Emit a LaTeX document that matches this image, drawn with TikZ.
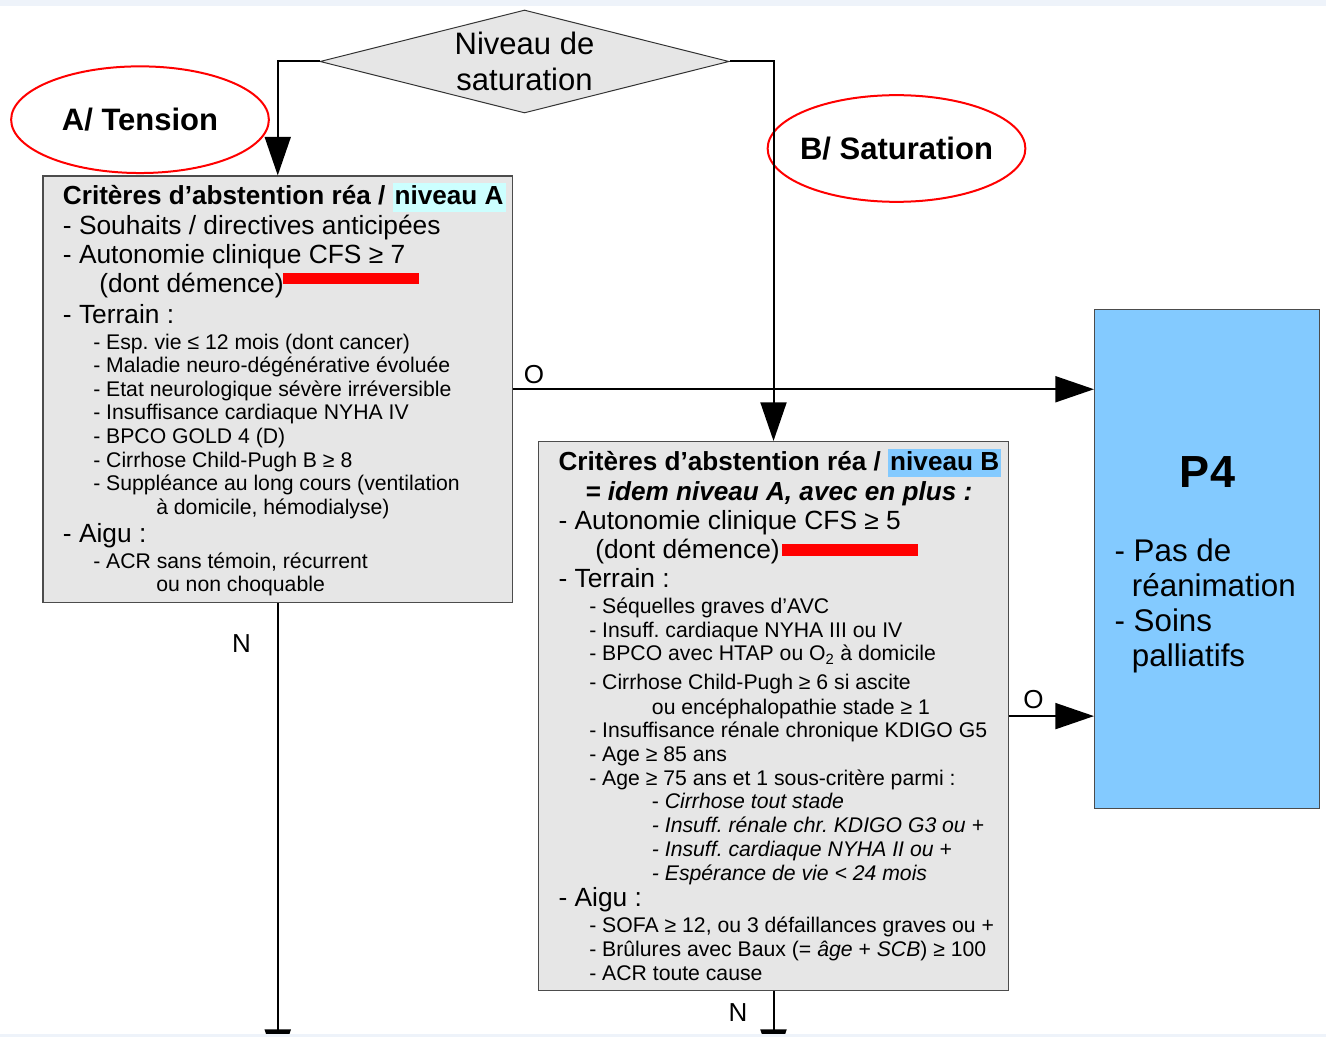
\documentclass[tikz,border=0pt]{standalone}
\usepackage{fontspec}
\setmainfont{Liberation Sans}
\usetikzlibrary{shapes.geometric,arrows.meta}

\definecolor{boxgray}{HTML}{E6E6E6}
\definecolor{pfblue}{HTML}{83CAFF}
\definecolor{hlcyan}{HTML}{CCFFFF}
\definecolor{bandblue}{HTML}{EEF3FA}
\newcommand{\hlmark}[2]{{\setlength{\fboxsep}{1.5pt}\colorbox{#1}{\rule[-3.5pt]{0pt}{18.5pt}#2}}}
\frenchspacing

\begin{document}
\begin{tikzpicture}[x=0.75pt,y=-0.75pt,
  crit/.style={draw=black!70,line width=0.8pt,fill=boxgray,inner sep=0pt},
  oval/.style={ellipse,draw=red,line width=1.5pt,inner xsep=-6pt,minimum width=193.3pt,minimum height=80pt,
    font=\bfseries\fontsize{23.25}{26}\selectfont},
  conn/.style={line width=1.5pt,-{Triangle[length=29pt,width=19.5pt]}},
  big/.style={anchor=base west,inner sep=0pt,font=\fontsize{19.75}{22}\selectfont},
  sm/.style={anchor=base west,inner sep=0pt,font=\fontsize{15.9}{18}\selectfont},
  lbl/.style={anchor=base,inner sep=0pt,font=\fontsize{19.5}{22}\selectfont}]
\useasboundingbox (0,0) rectangle (1326,1037);
\clip (0,0) rectangle (1326,1037);
% decision and the two branches
\node[diamond,draw=black!80,line width=0.75pt,fill=boxgray,aspect=4,inner sep=0pt,
  minimum width=306.75pt,minimum height=77.25pt,align=center,
  font=\fontsize{23.25}{26.8}\selectfont] (niv) at (524.5,61.5) {Niveau de\\saturation};
\node[oval] (tension) at (140,119.7) {A/ Tension};
\node[oval] (satur) at (896.5,148.5) {B/ Saturation};
% boxes
\node[crit,minimum width=352.1pt,minimum height=319.9pt] (critA) at (277.75,389.25) {};
\node[crit,minimum width=352.5pt,minimum height=411.9pt] (critB) at (773.5,716.1) {};
\node[crit,fill=pfblue,minimum width=168.75pt,minimum height=374.25pt] (pfour) at (1207,558.8) {};
% connectors
\draw[conn] (niv.west) -| (critA.north);
\draw[conn] (niv.east) -| (critB.north);
\draw[conn] (critA.east) -- (critA.east -| pfour.west);
\draw[conn] (critB.east) -- (critB.east -| pfour.west);
\coordinate (endA) at (277.75,1068);
\coordinate (endB) at (773.5,1068);
\draw[conn] (critA.south) -- (endA);
\draw[conn] (critB.south) -- (endB);
\node[lbl] (oA) at (534,383.5) {O};
\node[lbl] (oB) at (1033.5,708) {O};
\node[lbl] (nA) at (241.5,652) {N};
\node[lbl] (nB) at (738,1021.7) {N};
% niveau A
\node[big,font=\bfseries\fontsize{19.6}{22}\selectfont] (tA) at (62.7,205)
  {Critères d’abstention réa / \hlmark{hlcyan}{niveau A}};
\node[big] (a1) at (62.7,235) {- Souhaits / directives anticipées};
\node[big] (a2) at (62.7,264) {- Autonomie clinique CFS ≥ 7};
\node[big] (a3) at (99,293) {(dont démence)};
\fill[red] (283.3,272.7) rectangle (419.3,284.3);
\node[big] (a4) at (62.7,323) {- Terrain :};
\foreach \t [count=\i from 0] in {{- Esp. vie ≤ 12 mois (dont cancer)},
  {- Maladie neuro-dégénérative évoluée},{- Etat neurologique sévère irréversible},
  {- Insuffisance cardiaque NYHA IV},{- BPCO GOLD 4 (D)},{- Cirrhose Child-Pugh B ≥ 8},
  {- Suppléance au long cours (ventilation}}
  \node[sm] (sa\i) at (93,{349+23.6*\i}) {\t};
\node[sm] (sa7) at (156,514.2) {à domicile, hémodialyse)};
\node[big] (a5) at (62.7,542) {- Aigu :};
\node[sm] (sa8) at (93,568) {- ACR sans témoin, récurrent};
\node[sm] (sa9) at (156,591.7) {ou non choquable};
% niveau B
\node[big,font=\bfseries\fontsize{19.6}{22}\selectfont] (tB) at (558.3,470.7)
  {Critères d’abstention réa / \hlmark{pfblue}{niveau B}};
\node[big,font=\bfseries\itshape\fontsize{19.6}{22}\selectfont] (b0) at (585,500)
  {= idem niveau A, avec en plus :};
\node[big] (b1) at (558.3,529.3) {- Autonomie clinique CFS ≥ 5};
\node[big] (b2) at (595,558.3) {(dont démence)};
\fill[red] (782.3,544.3) rectangle (918.3,556);
\node[big] (b3) at (558.3,587.7) {- Terrain :};
\node[sm] (sb1) at (589,613.3) {- Séquelles graves d’AVC};
\node[sm] (sb2) at (589,637.3) {- Insuff. cardiaque NYHA III ou IV};
\node[sm] (sb3) at (589,660.7) {- BPCO avec HTAP ou O\textsubscript{2} à domicile};
\node[sm] (sb4) at (589,689.3) {- Cirrhose Child-Pugh ≥ 6 si ascite};
\node[sm] (sb5) at (651.7,714) {ou encéphalopathie stade ≥ 1};
\node[sm] (sb6) at (589,737.3) {- Insuffisance rénale chronique KDIGO G5};
\node[sm] (sb7) at (589,761) {- Age ≥ 85 ans};
\node[sm] (sb8) at (589,785) {- Age ≥ 75 ans et 1 sous-critère parmi :};
\node[sm] (ib1) at (651.7,808.3) {- \textit{Cirrhose tout stade}};
\node[sm] (ib2) at (651.7,832.3) {\textit{- Insuff. rénale chr. KDIGO G3 ou +}};
\node[sm] (ib3) at (651.7,856) {\textit{- Insuff. cardiaque NYHA II ou +}};
\node[sm] (ib4) at (651.7,880) {\textit{- Espérance de vie < 24 mois}};
\node[big] (b4) at (558.3,906.7) {- Aigu :};
\node[sm] (sb9) at (589,932.7) {- SOFA ≥ 12, ou 3 défaillances graves ou +};
\node[sm] (sb10) at (589,956.7) {- Brûlures avec Baux (= \textit{âge} + \textit{SCB}) ≥ 100};
\node[sm] (sb11) at (589,980) {- ACR toute cause};
% P4
\node[anchor=base,inner sep=0pt,font=\bfseries\fontsize{33.75}{38}\selectfont] (p4) at (1207.5,487.3) {P4};
\node[big,font=\fontsize{23.5}{26}\selectfont] (p1) at (1114.3,561) {- Pas de};
\node[big,font=\fontsize{23.5}{26}\selectfont] (p2) at (1131.7,596.7) {réanimation};
\node[big,font=\fontsize{23.5}{26}\selectfont] (p3) at (1114.3,631.7) {- Soins};
\node[big,font=\fontsize{23.5}{26}\selectfont] (p5) at (1131.7,666.7) {palliatifs};
% page bands
\fill[bandblue] (0,0) rectangle (1326,6.5);
\fill[bandblue] (0,1033.5) rectangle (1326,1037);
\end{tikzpicture}
\end{document}
